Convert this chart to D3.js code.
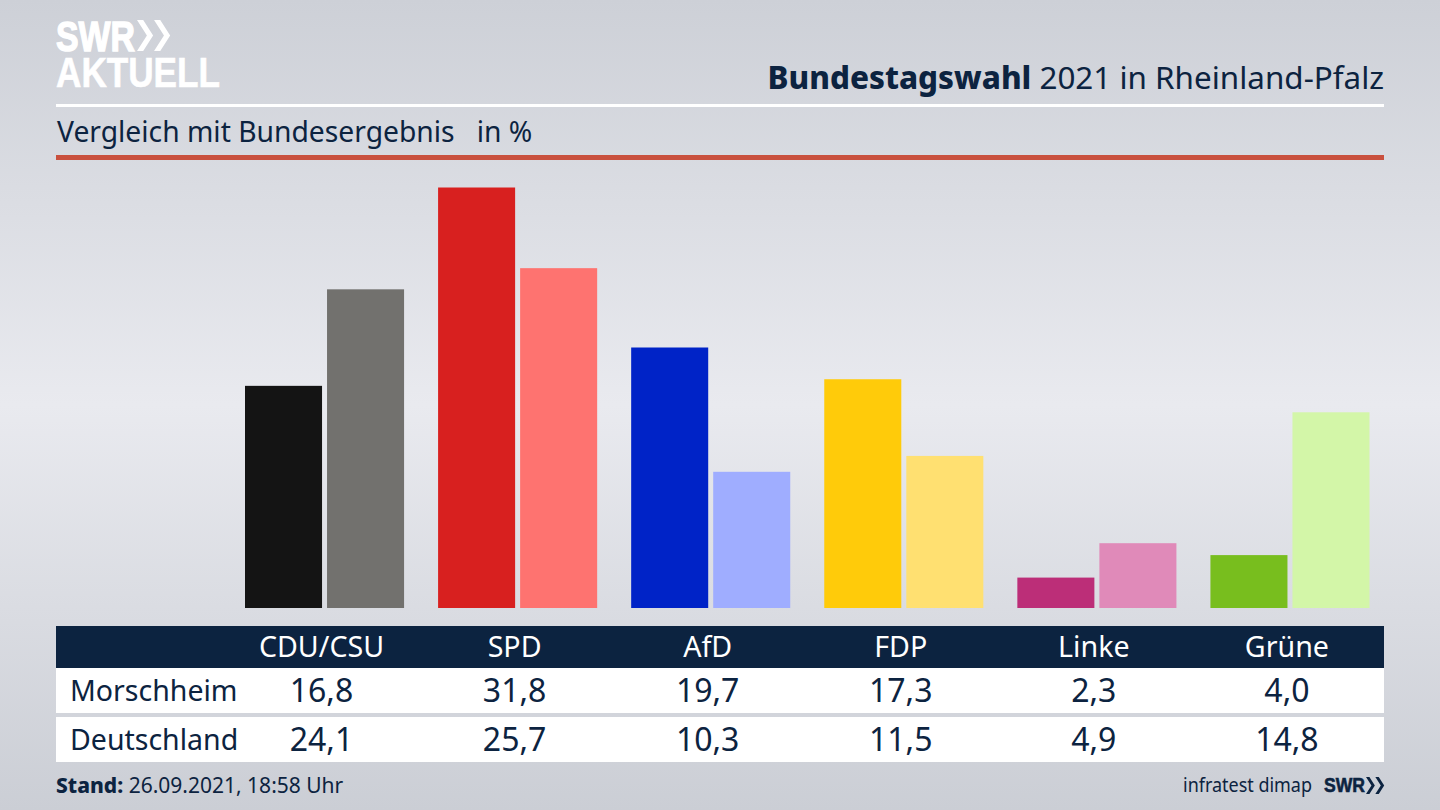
<!DOCTYPE html>
<html><head><meta charset="utf-8">
<script src="https://cdn.jsdelivr.net/npm/d3@7"></script>
<style>html,body{margin:0;padding:0;background:#d5d7dd}svg{display:block}text{font-family:"Noto Sans",sans-serif}</style>
</head><body><svg id="c" width="1440" height="810"></svg>
<script>
const categories=["CDU/CSU","SPD","AfD","FDP","Linke","Grüne"];
const morschheim=[16.8,31.8,19.7,17.3,2.3,4.0];
const deutschland=[24.1,25.7,10.3,11.5,4.9,14.8];
const colorsLocal=["#141414","#d8201f","#0023c7","#ffcb0a","#bc2e78","#78be1e"];
const colorsFederal=["#72716e","#fe7370","#9fadff","#ffe071","#e08ab9","#d3f6a8"];
const rowLabels=["Morschheim","Deutschland"];
const title=["Bundestagswahl"," 2021 in Rheinland-Pfalz"];
const subtitle="Vergleich mit Bundesergebnis   in %";
const stand=["Stand:"," 26.09.2021, 18:58 Uhr"];
const source="infratest dimap";
const navy="#0c2340";

const svg=d3.select("#c");
const defs=svg.append("defs");
const g=defs.append("linearGradient").attr("id","bg").attr("x1",0).attr("x2",0).attr("y1",0).attr("y2",1);
[[0,"#cdd0d7"],[.5,"#e9eaef"],[1,"#cbced5"]].forEach(s=>g.append("stop").attr("offset",s[0]).attr("stop-color",s[1]));
svg.append("rect").attr("width",1440).attr("height",810).attr("fill","url(#bg)");

// Header
const logo=svg.append("text").attr("fill","#fff").attr("stroke","#fff").style("font-family","'Liberation Sans'").attr("font-weight",700).attr("font-size",42);
logo.append("tspan").attr("x",56).attr("y",51).attr("stroke-width",1.4).attr("textLength",79).attr("lengthAdjust","spacingAndGlyphs").text("SWR");
logo.append("tspan").attr("x",56).attr("y",87).attr("stroke-width",.6).attr("textLength",164).attr("lengthAdjust","spacingAndGlyphs").text("AKTUELL");
const chev=(x,y,s,f)=>{[0,.55].forEach(o=>svg.append("path")
  .attr("d",`M${x+o*s} ${y}h${s*.2}l${s*.32} ${s*.5}l${-s*.32} ${s*.5}h${-s*.2}l${s*.32} ${-s*.5}z`).attr("fill",f));};
chev(137,20,31,"#fff");
const t=svg.append("text").attr("x",1384).attr("y",89).attr("text-anchor","end").attr("font-size",31.4).attr("fill",navy);
t.append("tspan").attr("font-weight",800).text(title[0]);
t.append("tspan").text(title[1]);
svg.append("rect").attr("x",56).attr("y",104).attr("width",1328).attr("height",3).attr("fill","#fff");
svg.append("text").attr("x",57).attr("y",142).attr("font-size",28.25).attr("fill",navy).style("white-space","pre").text(subtitle);
svg.append("rect").attr("x",56).attr("y",155).attr("width",1328).attr("height",5).attr("fill","#c9503e");

// Scales
const x0=d3.scaleBand().domain(categories).range([245,1369.5]).paddingInner(34/193).paddingOuter(0);
const x1=d3.scaleBand().domain([0,1]).range([0,x0.bandwidth()]).paddingInner(5/82).paddingOuter(0);
const y=d3.scaleLinear().domain([0,31.8]).range([608,187.5]);

const groups=svg.append("g").selectAll("g").data(categories).join("g").attr("transform",d=>`translate(${x0(d)},0)`);
groups.append("rect").attr("x",x1(0)).attr("width",x1.bandwidth())
  .attr("y",(d,i)=>y(morschheim[i])).attr("height",(d,i)=>y(0)-y(morschheim[i])).attr("fill",(d,i)=>colorsLocal[i]);
groups.append("rect").attr("x",x1(1)).attr("width",x1.bandwidth())
  .attr("y",(d,i)=>y(deutschland[i])).attr("height",(d,i)=>y(0)-y(deutschland[i])).attr("fill",(d,i)=>colorsFederal[i]);

// Table
const cx=d=>x0(d)+76.5;
svg.append("rect").attr("x",56).attr("y",626).attr("width",1328).attr("height",42).attr("fill",navy);
svg.append("rect").attr("x",56).attr("y",668).attr("width",1328).attr("height",45).attr("fill","#fff");
svg.append("rect").attr("x",56).attr("y",717).attr("width",1328).attr("height",45).attr("fill","#fff");
svg.append("g").selectAll("text").data(categories).join("text").attr("x",cx).attr("y",656.5)
  .attr("text-anchor","middle").attr("font-size",28.6).attr("fill","#fff").text(d=>d);
const fmt=v=>v.toFixed(1).replace(".",",");
[morschheim,deutschland].forEach((vals,r)=>{
  const by=[702,751][r];
  svg.append("text").attr("x",70).attr("y",[700.5,749.5][r]).attr("font-size",28.5).attr("fill",navy).text(rowLabels[r]);
  svg.append("g").selectAll("text").data(categories).join("text").attr("x",cx).attr("y",by)
    .attr("text-anchor","middle").attr("font-size",32).attr("fill",navy).text((d,i)=>fmt(vals[i]));
});

// Footer
const s=svg.append("text").attr("x",56).attr("y",793).attr("font-size",21).attr("fill",navy);
s.append("tspan").attr("font-weight",800).text(stand[0]);
s.append("tspan").text(stand[1]);
svg.append("text").attr("x",1183).attr("y",792).attr("font-size",19).attr("fill",navy)
  .attr("textLength",129).attr("lengthAdjust","spacingAndGlyphs").text(source);
svg.append("text").attr("x",1324).attr("y",792).attr("font-size",21).attr("font-weight",700).attr("fill",navy).attr("stroke",navy).attr("stroke-width",.6)
  .attr("textLength",41).attr("lengthAdjust","spacingAndGlyphs").style("font-family","'Liberation Sans'").text("SWR");
chev(1366,777,17,navy);
</script></body></html>
